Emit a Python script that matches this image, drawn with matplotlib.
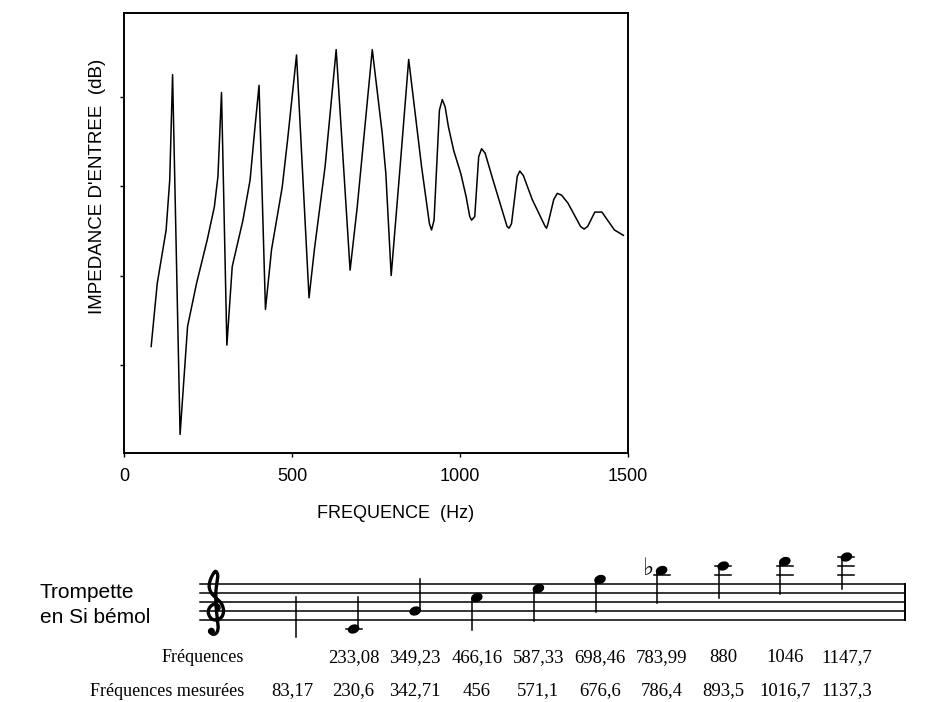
import matplotlib
matplotlib.use('Agg')
import matplotlib.pyplot as plt
import numpy as np
from matplotlib.patches import Ellipse, Circle

# impedance curve
freq_hz = [80.8, 98.9, 125.4, 136.1, 144.6, 166.9, 189.2, 215.8, 247.7, 269.0,
           279.6, 290.2, 306.2, 322.1, 354.0, 375.3, 388.0, 401.9, 421.0, 439.1,
           470.9, 486.9, 513.5, 550.7, 566.6, 598.5, 631.5, 672.9, 694.2, 738.9,
           768.6, 779.3, 795.2, 821.8, 847.3, 885.6, 909.0, 915.3, 922.8, 938.7,
           947.2, 955.7, 965.3, 981.2, 1002.5, 1018.4, 1029.0, 1034.4, 1043.9,
           1055.6, 1064.2, 1074.8, 1098.2, 1140.0, 1146.0, 1153.3, 1170.4,
           1177.9, 1188.5, 1215.1, 1253.4, 1257.6, 1261.9, 1278.9, 1289.5,
           1302.3, 1321.4, 1358.7, 1369.3, 1380.0, 1401.2, 1422.4, 1459.6,
           1486.2]
level_db = [12.05, 19.1, 25.1, 30.7, 42.5, 2.2, 14.3, 19.1, 24.0, 27.7,
            31.1, 40.5, 12.2, 21.0, 26.2, 30.7, 35.9, 41.3, 16.2, 22.9,
            29.9, 35.2, 44.7, 17.5, 22.9, 32.2, 45.3, 20.6, 27.7, 45.3,
            35.9, 31.4, 20.0, 32.2, 44.2, 32.2, 25.8, 25.1, 26.2, 38.5,
            39.7, 38.9, 36.7, 34.0, 31.4, 28.8, 26.6, 26.2, 26.6,
            33.3, 34.2, 33.7, 30.7, 25.5, 25.3, 25.8, 31.1,
            31.7, 31.2, 28.5, 25.5, 25.3, 25.8, 28.5, 29.2,
            29.0, 28.1, 25.5, 25.2, 25.5, 27.1, 27.1, 25.1,
            24.5]

x_ticks = [0, 500, 1000, 1500]
y_ticks = [10, 20, 30, 40]

# notes of the trumpet (staff steps above bottom line E4), first has no head
note_steps = [-3.8, -2, 2, 5, 7, 9, 11, 12, 13, 14]
note_flat = [False, False, False, False, False, False, True, False, False, False]
note_head = [False, True, True, True, True, True, True, True, True, True]

freq_theory = ["", "233,08", "349,23", "466,16", "587,33", "698,46", "783,99",
               "880", "1046", "1147,7"]
freq_measured = ["83,17", "230,6", "342,71", "456", "571,1", "676,6", "786,4",
                 "893,5", "1016,7", "1137,3"]

# G clef outline, in staff gaps around the G line (drawn as a shape, no font has it)
clef_x = [0.15, 0.45, 0.3, -0.1, -0.55, -0.75, -0.45, 0.15, 0.75, 0.95, 0.7,
          0.1, -0.4, -0.65, -0.5, -0.15, 0.1, 0.3, 0.25, 0.1, 0.12, 0.28,
          0.35, 0.2, -0.2, -0.5]
clef_y = [0.0, 0.3, 0.65, 0.75, 0.45, -0.15, -0.8, -1.0, -0.65, 0.05, 0.85,
          1.45, 2.0, 2.7, 3.5, 4.2, 4.4, 4.0, 3.4, 2.2, 0.5, -1.0,
          -1.8, -2.4, -2.6, -2.35]


def smooth(px, py, n=12):
    # catmull-rom through the outline points
    p = np.column_stack([px, py])
    p = np.vstack([p[0], p, p[-1]])
    out = []
    for i in range(1, len(p) - 2):
        p0, p1, p2, p3 = p[i - 1], p[i], p[i + 1], p[i + 2]
        for t in np.linspace(0, 1, n, endpoint=False):
            out.append(0.5 * ((2 * p1) + (-p0 + p2) * t
                              + (2 * p0 - 5 * p1 + 4 * p2 - p3) * t ** 2
                              + (-p0 + 3 * p1 - 3 * p2 + p3) * t ** 3))
    out.append(p[-2])
    out = np.array(out)
    return out[:, 0], out[:, 1]


W, H = 925, 702
fig = plt.figure(figsize=(W / 100, H / 100), dpi=100)

sans = 'Liberation Sans'
serif = 'Liberation Serif'

# main plot, box at x 124..628, y 13..453 px
ax = fig.add_axes([124 / W, 1 - 453 / H, 504 / W, 440 / H])
ax.plot(freq_hz, level_db, color='black', linewidth=1.1)
ax.set_xlim(0, 1500)
ax.set_ylim(0.12, 49.4)
ax.set_xticks(x_ticks)
ax.set_xticklabels([str(t) for t in x_ticks], fontfamily=sans, fontsize=13)
ax.set_yticks(y_ticks)
ax.set_yticklabels([])
ax.tick_params(direction='out', length=3, width=1, pad=8)
for s in ax.spines.values():
    s.set_linewidth(1.4)

fig.text(396 / W, 1 - 514 / H, "FREQUENCE  (Hz)", fontfamily=sans, fontsize=13,
         ha='center', va='center')
fig.text(98 / W, 1 - 186 / H, "IMPEDANCE D'ENTREE  (dB)", fontfamily=sans,
         fontsize=13.5, ha='center', va='center', rotation=90)

# score part drawn in pixel coordinates
sc = fig.add_axes([0, 0, 1, 1])
sc.set_xlim(0, W)
sc.set_ylim(H, 0)
sc.axis('off')

staff_bottom = 620
gap = 9
staff_left, staff_right = 200, 905
for i in range(5):
    y = staff_bottom - i * gap
    sc.plot([staff_left, staff_right], [y, y], color='black', linewidth=1.1)
sc.plot([staff_right, staff_right], [staff_bottom, staff_bottom - 4 * gap],
        color='black', linewidth=1.4)

# treble clef
g_line = staff_bottom - gap
cx, cy = smooth(clef_x, clef_y)
sc.plot(215 + cx * gap, g_line - cy * gap, color='black', linewidth=2.4,
        solid_capstyle='round')
sc.add_patch(Circle((215 - 0.4 * gap, g_line + 2.25 * gap), 2.8, color='black'))

sc.text(40, 598, "Trompette", fontfamily=sans, fontsize=15, ha='left',
        va='baseline')
sc.text(40, 623, "en Si bémol", fontfamily=sans, fontsize=15, ha='left',
        va='baseline')

col_x = [292 + 61.6 * i for i in range(10)]
for x, st, flat, head in zip(col_x, note_steps, note_flat, note_head):
    y = staff_bottom - st * gap / 2
    # ledger lines
    k = -2
    while k >= st:
        ly = staff_bottom - k * gap / 2
        if head:
            sc.plot([x - 8, x + 8], [ly, ly], color='black', linewidth=1.1)
        k -= 2
    k = 10
    while k <= st:
        ly = staff_bottom - k * gap / 2
        sc.plot([x - 8, x + 8], [ly, ly], color='black', linewidth=1.1)
        k += 2
    if head:
        sc.add_patch(Ellipse((x, y), 10.5, 7.5, angle=-20, color='black'))
        if st < 4:
            sc.plot([x + 4.5, x + 4.5], [y - 1, y - 32], color='black',
                    linewidth=1.1)
        else:
            sc.plot([x - 4.5, x - 4.5], [y + 1, y + 32], color='black',
                    linewidth=1.1)
    else:
        sc.plot([x + 4, x + 4], [y, y - 40], color='black', linewidth=1.1)
    if flat:
        sc.text(x - 13, y - 3, '\u266D', fontfamily='DejaVu Sans', fontsize=17,
                fontweight='bold', ha='center', va='center')

sc.text(244, 658, "Fréquences", fontfamily=serif, fontsize=13, ha='right',
        va='center')
sc.text(244, 691, "Fréquences mesurées", fontfamily=serif, fontsize=13,
        ha='right', va='center')
for x, a, b in zip(col_x, freq_theory, freq_measured):
    sc.text(x, 658, a, fontfamily=serif, fontsize=13.5, ha='center', va='center')
    sc.text(x, 691, b, fontfamily=serif, fontsize=13.5, ha='center', va='center')

fig.savefig('out.png', dpi=100)
